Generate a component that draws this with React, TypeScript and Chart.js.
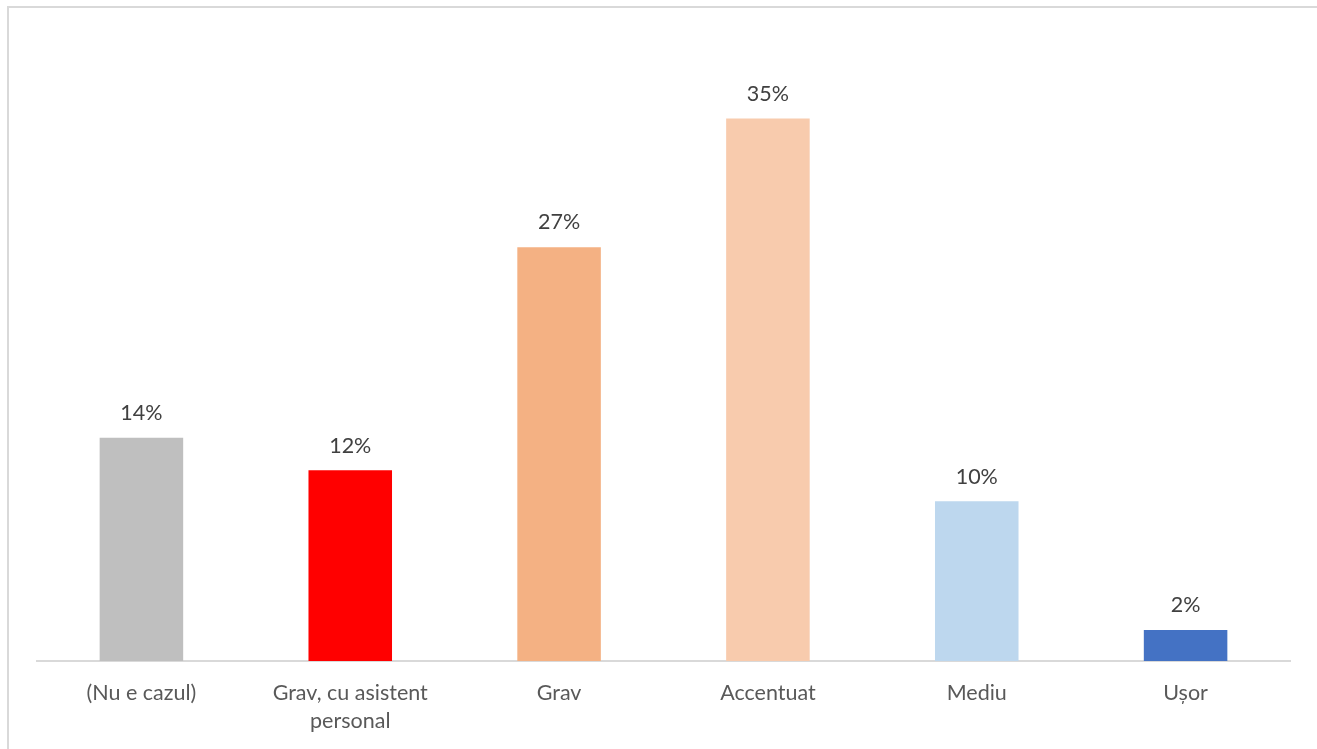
import React, { useEffect, useRef } from "react";
import { Chart, registerables } from "chart.js";

Chart.register(...registerables);

const categories: (string | string[])[] = [
  "(Nu e cazul)",
  ["Grav, cu asistent", "personal"],
  "Grav",
  "Accentuat",
  "Mediu",
  "Ușor",
];
const values = [14.4, 12.3, 26.7, 35.0, 10.3, 2.0];
const barColors = ["#bfbfbf", "#ff0000", "#f4b183", "#f8cbad", "#bdd7ee", "#4472c4"];

const FONT = "Lato, 'Open Sans', sans-serif";

const labelPlugin = {
  id: "valueLabels",
  afterDatasetsDraw(chart: any) {
    const ctx = chart.ctx;
    const meta = chart.getDatasetMeta(0);
    ctx.save();
    ctx.fillStyle = "#404040";
    ctx.font = `21.5px ${FONT}`;
    ctx.textAlign = "center";
    ctx.textBaseline = "bottom";
    meta.data.forEach((bar: any, i: number) => {
      ctx.fillText(`${Math.round(values[i])}%`, bar.x, bar.y - 14);
    });
    ctx.restore();
  },
};

export default function App() {
  const ref = useRef<HTMLCanvasElement>(null);
  useEffect(() => {
    if (!ref.current) return;
    const chart = new Chart(ref.current, {
      type: "bar",
      data: {
        labels: categories,
        datasets: [
          {
            data: values,
            backgroundColor: barColors,
            categoryPercentage: 1,
            barPercentage: 0.4,
          },
        ],
      },
      options: {
        animation: false,
        responsive: false,
        maintainAspectRatio: false,
        layout: { padding: { left: 37, right: 27, top: 41, bottom: 0 } },
        plugins: { legend: { display: false }, tooltip: { enabled: false } },
        scales: {
          x: {
            grid: { display: false, drawTicks: false },
            border: { display: true, color: "#d9d9d9", width: 2 },
            ticks: {
              color: "#595959",
              font: { family: FONT, size: 21.5, lineHeight: 1.3 },
              padding: 18,
              maxRotation: 0,
              autoSkip: false,
            },
            afterFit(scale: any) {
              scale.height = 88;
            },
          },
          y: {
            display: false,
            min: 0,
            max: 40,
          },
        },
      },
      plugins: [labelPlugin],
    });
    return () => chart.destroy();
  }, []);
  return (
    <div style={{ position: "fixed", left: 0, top: 0, width: 1317, height: 749, background: "#fff", overflow: "hidden" }}>
      <div
        style={{
          position: "absolute",
          left: 7,
          top: 6,
          width: 1310,
          height: 743,
          borderTop: "2px solid #d9d9d9",
          borderLeft: "2px solid #d9d9d9",
          boxSizing: "border-box",
        }}
      />
      <canvas ref={ref} width={1317} height={749} style={{ position: "absolute", left: 0, top: 0 }} />
    </div>
  );
}
